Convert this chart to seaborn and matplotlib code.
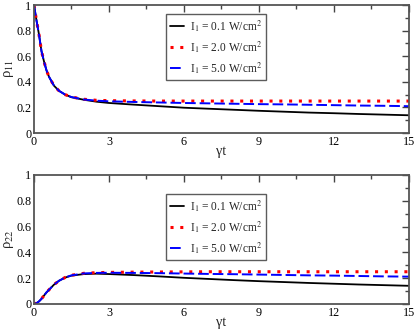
import pandas as pd
import seaborn as sns
import matplotlib.pyplot as plt
from matplotlib.ticker import AutoMinorLocator

# time axis (gamma t)
t = [0, 0.1, 0.2, 0.3, 0.4, 0.5, 0.6, 0.8, 1.0, 1.25, 1.5, 2.0, 2.5, 3,
     4, 5, 6, 7, 8, 9, 10, 11, 12, 13, 14, 15]

labels = ["I$_1$ = 0.1 W/cm$^2$", "I$_1$ = 2.0 W/cm$^2$", "I$_1$ = 5.0 W/cm$^2$"]
xticks = [0, 3, 6, 9, 12, 15]
yticks = [0, 0.2, 0.4, 0.6, 0.8, 1]
yticklabels = ["0", "0.2", "0.4", "0.6", "0.8", "1"]

# rho_11 for the three intensities
rho11_01 = [1.0, 0.88, 0.77, 0.64, 0.56, 0.49, 0.44, 0.37, 0.33, 0.30, 0.28, 0.26, 0.245,
            0.235, 0.222, 0.21, 0.198, 0.19, 0.182, 0.174, 0.167, 0.16, 0.155, 0.149, 0.144, 0.139]
rho11_20 = [1.0, 0.88, 0.77, 0.64, 0.56, 0.49, 0.44, 0.37, 0.33, 0.30, 0.282, 0.264, 0.256,
            0.253, 0.251, 0.25, 0.25, 0.25, 0.25, 0.25, 0.25, 0.25, 0.25, 0.25, 0.25, 0.25]
rho11_50 = [1.0, 0.88, 0.77, 0.64, 0.56, 0.49, 0.44, 0.37, 0.33, 0.30, 0.281, 0.262, 0.253,
            0.248, 0.243, 0.239, 0.235, 0.232, 0.229, 0.226, 0.224, 0.221, 0.218, 0.215, 0.213, 0.21]

# rho_22 for the three intensities
rho22_01 = [0.0, 0.006, 0.02, 0.04, 0.065, 0.09, 0.11, 0.15, 0.18, 0.205, 0.22, 0.232, 0.235,
            0.232, 0.224, 0.214, 0.203, 0.194, 0.185, 0.177, 0.17, 0.163, 0.157, 0.151, 0.146, 0.141]
rho22_20 = [0.0, 0.006, 0.02, 0.04, 0.065, 0.09, 0.11, 0.15, 0.18, 0.206, 0.223, 0.238, 0.243,
            0.245, 0.247, 0.248, 0.249, 0.25, 0.25, 0.25, 0.25, 0.25, 0.25, 0.25, 0.25, 0.25]
rho22_50 = [0.0, 0.006, 0.02, 0.04, 0.065, 0.09, 0.11, 0.15, 0.18, 0.206, 0.222, 0.237, 0.241,
            0.242, 0.241, 0.239, 0.236, 0.233, 0.231, 0.228, 0.225, 0.222, 0.22, 0.217, 0.214, 0.212]

colors = ["black", "red", "blue"]
styles = ["-", (0, (1, 2.2)), (0, (5.5, 2))]
widths = [1.3, 2.2, 1.4]

sns.set_theme(style="white")
plt.rcParams["font.family"] = ["Liberation Serif", "DejaVu Serif"]
plt.rcParams["mathtext.fontset"] = "stix"

fig = plt.figure(figsize=(4.15, 3.31), dpi=100)
ax1 = fig.add_axes([0.0819, 0.598, 0.9036, 0.3867])
ax2 = fig.add_axes([0.0819, 0.0816, 0.9036, 0.3897])


def draw(ax, series, ylab, leg_top):
    for y, c, ls, lw, lab in zip(series, colors, styles, widths, labels):
        sns.lineplot(x=t, y=y, ax=ax, color=c, linestyle=ls, linewidth=lw, label=lab)
    ax.set_xticks(xticks, [str(v) for v in xticks])
    ax.set_yticks(yticks, yticklabels)
    ax.set_xlim(0, 15)
    ax.set_ylim(0, 1)
    ax.xaxis.set_minor_locator(AutoMinorLocator(2))
    ax.yaxis.set_minor_locator(AutoMinorLocator(2))
    ax.tick_params(which="both", direction="in", top=True, right=True,
                   labelsize=8.7, colors="#444444", labelcolor="black", pad=2)
    ax.tick_params(which="major", length=5, width=1)
    ax.tick_params(which="minor", length=3, width=1)
    for s in ax.spines.values():
        s.set_color("#555555")
        s.set_linewidth(1.3)
    ax.set_xlabel("γt", fontsize=10, labelpad=-2)
    ax.set_ylabel(ylab, fontsize=10.5, va="center")
    ax.yaxis.set_label_coords(-0.066, 0.5)
    leg = ax.legend(loc="upper left", bbox_to_anchor=(0.352, leg_top), borderaxespad=0,
                    fontsize=8.3, frameon=True, fancybox=False, handlelength=1.2,
                    labelspacing=0.45, borderpad=0.35, handletextpad=0.55)
    leg.get_frame().set_edgecolor("#333333")
    leg.get_frame().set_linewidth(1.0)


draw(ax1, [rho11_01, rho11_20, rho11_50], "ρ$_{11}$", 0.93)
draw(ax2, [rho22_01, rho22_20, rho22_50], "ρ$_{22}$", 0.853)

fig.savefig("out.png", dpi=100)
